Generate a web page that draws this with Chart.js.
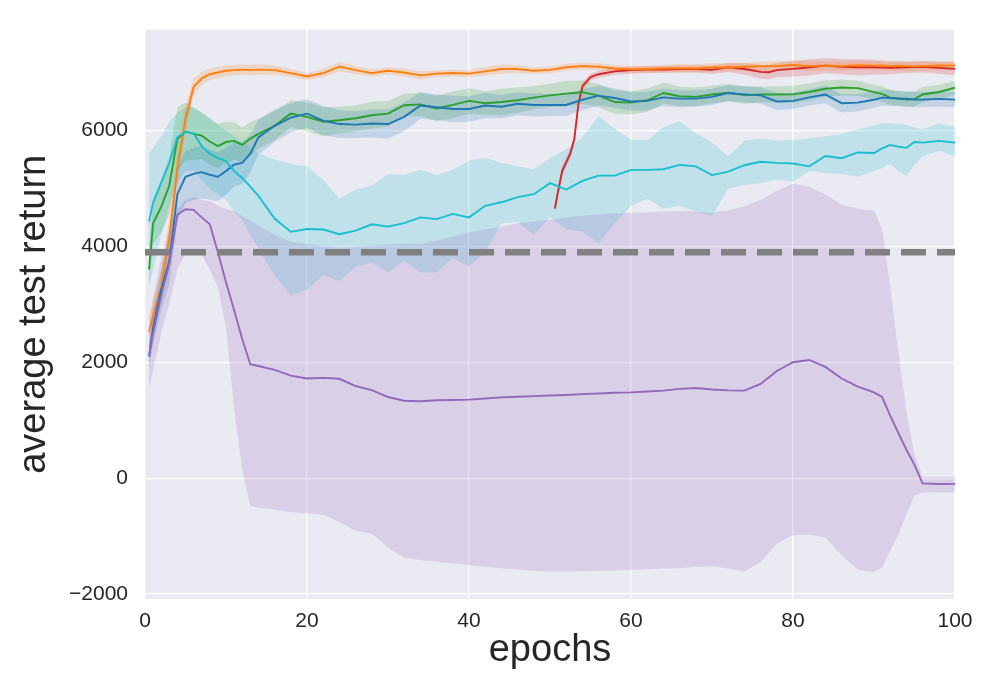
<!DOCTYPE html>
<html>
<head>
<meta charset="utf-8">
<script src="https://cdn.jsdelivr.net/npm/chart.js@4.4.1/dist/chart.umd.min.js"></script>
<style>
  html, body { margin: 0; padding: 0; background: #ffffff; }
  #wrap { width: 1000px; height: 700px; }
</style>
</head>
<body>
<div id="wrap"><canvas id="returnChart" width="1000" height="700"></canvas></div>
<script>
// ---- data ----
const epochs = [0.5, 1, 2, 3, 4, 5, 6, 7, 8, 9, 10, 11, 12, 13, 14,
    16, 18, 20, 22, 24, 26, 28, 30, 32, 34, 36, 38, 40, 42, 44, 46, 48, 50,
    52, 54, 56, 58, 60, 62, 64, 66, 68, 70, 72, 74, 76, 78, 80, 82, 84, 86, 88, 90,
    91, 92, 93, 94, 95, 96, 98, 100];

const orangeMean = [2525, 2800, 3300, 4150, 5350, 6200, 6750, 6900, 6970, 7000, 7030, 7040, 7050, 7040, 7050,
    7040, 6990, 6930, 6990, 7100, 7040, 6990, 7030, 7000, 6950, 6980, 6990, 6980, 7020, 7060, 7060, 7030, 7045,
    7090, 7110, 7100, 7070, 7055, 7060, 7070, 7075, 7070, 7090, 7085, 7100, 7110, 7110, 7130, 7110, 7120, 7110, 7125, 7118,
    7120, 7110, 7115, 7110, 7105, 7110, 7120, 7118];
const orangeSpread = [250, 280, 300, 320, 300, 220, 150, 110, 100, 100, 90, 90, 90, 90, 90,
    80, 70, 60, 70, 80, 70, 60, 60, 70, 70, 60, 60, 60, 70, 80, 70, 60, 60,
    60, 60, 60, 60, 60, 60, 60, 70, 70, 70, 70, 70, 80, 80, 80, 80, 80, 80, 80, 80,
    80, 80, 80, 80, 80, 80, 80, 80];

const greenMean = [3600, 4400, 4680, 5050, 5850, 5980, 5940, 5910, 5810, 5730, 5800, 5820, 5750, 5860, 5940,
    6080, 6290, 6235, 6150, 6177, 6210, 6263, 6290, 6435, 6450, 6380, 6440, 6510, 6470, 6490, 6520, 6566, 6606,
    6635, 6660, 6600, 6490, 6480, 6520, 6646, 6590, 6580, 6620, 6650, 6610, 6620, 6620, 6623, 6663, 6720, 6740, 6730, 6660,
    6630, 6566, 6550, 6535, 6540, 6620, 6663, 6737];
const greenSpread = [300, 350, 450, 500, 550, 500, 450, 400, 400, 380, 350, 320, 300, 280, 260,
    250, 230, 250, 250, 230, 220, 230, 220, 200, 200, 220, 230, 220, 200, 230, 220, 200, 200,
    220, 200, 200, 200, 200, 200, 180, 170, 160, 150, 150, 150, 140, 140, 150, 150, 140, 140, 130, 130,
    130, 130, 130, 130, 130, 130, 120, 120];

const blueMean = [2100, 2600, 3250, 3750, 4900, 5200, 5250, 5280, 5235, 5200, 5300, 5410, 5440, 5600, 5880,
    6080, 6220, 6290, 6170, 6110, 6100, 6120, 6110, 6235, 6430, 6400, 6370, 6370, 6430, 6410, 6460, 6440, 6440,
    6440, 6530, 6600, 6560, 6500, 6510, 6570, 6549, 6549, 6580, 6646, 6623, 6606, 6500, 6510, 6570, 6620, 6470, 6480, 6530,
    6566, 6560, 6550, 6549, 6535, 6532, 6545, 6532];
const blueSpread = [200, 300, 350, 400, 450, 450, 450, 450, 430, 420, 400, 380, 360, 330, 300,
    280, 250, 250, 250, 240, 230, 240, 250, 250, 230, 220, 230, 220, 220, 200, 200, 200, 190,
    190, 180, 170, 170, 160, 160, 150, 150, 140, 140, 140, 140, 140, 150, 140, 140, 150, 160, 150, 140,
    140, 140, 130, 130, 130, 130, 130, 130];

const cyanMean = [4430, 4750, 5100, 5440, 5880, 5975, 5950, 5730, 5600, 5520, 5470, 5300, 5180, 5030, 4870,
    4480, 4250, 4300, 4290, 4210, 4270, 4380, 4340, 4400, 4500, 4470, 4560, 4500, 4700, 4760, 4850, 4900, 5090,
    4980, 5130, 5220, 5220, 5320, 5320, 5330, 5406, 5380, 5230, 5290, 5400, 5460, 5440, 5430, 5380, 5560, 5520, 5620, 5610,
    5690, 5749, 5720, 5700, 5800, 5790, 5820, 5790];
const cyanUpper = [5600, 5700, 5900, 6150, 6300, 6400, 6400, 6300, 6200, 6100, 6000, 5900, 5800, 5700, 5600,
    5500, 5420, 5380, 5150, 4820, 4980, 5050, 5250, 5230, 5320, 5230, 5320, 5480, 5530, 5440, 5380, 5330, 5520,
    5680, 5880, 6250, 6030, 5840, 5830, 6060, 6160, 5950, 5790, 5560, 5820, 5860, 5820, 5830, 5860, 5900, 5940, 6020, 6080,
    6130, 6130, 6110, 6100, 6050, 6020, 6120, 6063];
const cyanLower = [3300, 3600, 4200, 4700, 5100, 5300, 5300, 5150, 5000, 4900, 4800, 4600, 4450, 4200, 3950,
    3500, 3150, 3250, 3500, 3400, 3650, 3720, 3550, 3750, 3550, 3550, 3800, 3650, 3900, 4400, 4420, 4200, 4500,
    4300, 4250, 4050, 4400, 4700, 4820, 4650, 4700, 4600, 4520, 5000, 5060, 5090, 5150, 5120, 5300, 5260, 5250, 5200, 5300,
    5350, 5420, 5300, 5220, 5400, 5550, 5650, 5550];

const purpleMean = [2100, 2500, 3150, 3700, 4550, 4640, 4630, 4500, 4380, 3900, 3380, 2900, 2400, 1966, 1935,
    1870, 1770, 1720, 1730, 1715, 1590, 1520, 1400, 1335, 1327, 1345, 1350, 1356, 1375, 1394, 1405, 1415, 1426,
    1435, 1450, 1460, 1475, 1481, 1495, 1510, 1540, 1555, 1530, 1515, 1510, 1625, 1850, 2000, 2040, 1920, 1720, 1580, 1480,
    1400, 1080, 780, 490, 230, -90, -100, -99];
const purpleUpper = [2700, 3100, 3800, 4300, 4650, 4800, 4850, 4800, 4780, 4700, 4650, 4600, 4520, 4450, 4350,
    4200, 4080, 4040, 4000, 3980, 3990, 4010, 4030, 4040, 4040, 4100, 4170, 4237, 4290, 4340, 4400, 4430, 4460,
    4500, 4530, 4550, 4570, 4580, 4590, 4600, 4608, 4600, 4580, 4620, 4690, 4800, 4960, 5080, 5030, 4900, 4720, 4650, 4620,
    4300, 3320, 2180, 1150, 400, 20, 20, 20];
const purpleLower = [1550, 1870, 2500, 3000, 3600, 3880, 3900, 3850, 3600, 3300, 2600, 1200, 150, -480, -510,
    -540, -590, -610, -630, -757, -910, -960, -1200, -1370, -1410, -1441, -1470, -1500, -1530, -1555, -1580, -1600, -1612,
    -1610, -1605, -1600, -1590, -1584, -1570, -1560, -1555, -1530, -1520, -1560, -1610, -1450, -1127, -984, -970, -1030, -1330, -1580, -1620,
    -1540, -1250, -970, -620, -300, -250, -245, -245];

const redEpochs = [50.6, 51, 51.5, 52, 52.5, 53, 53.5, 54, 55, 56, 58, 60, 62, 64, 66, 68, 70,
    72, 74, 76, 77, 78, 80, 82, 84, 86, 88, 90, 92, 94, 96, 98, 100];
const redMean = [4650, 4950, 5300, 5450, 5600, 5850, 6450, 6760, 6920, 6970, 7020, 7040, 7050, 7050, 7060, 7060, 7045,
    7090, 7060, 7010, 7005, 7040, 7062, 7090, 7118, 7100, 7090, 7090, 7080, 7090, 7100, 7080, 7062];
const redSpread = [60, 70, 80, 80, 80, 80, 80, 70, 60, 60, 60, 60, 60, 60, 60, 60, 70,
    80, 100, 120, 120, 120, 130, 140, 130, 130, 140, 130, 110, 100, 100, 100, 110];

const baselineLevel = 3900;
const xTickValues = [0, 20, 40, 60, 80, 100];
const yTickValues = [-2000, 0, 2000, 4000, 6000];

// ---- helpers ----
function pts(xs, ys) {
    return xs.map((x, i) => ({ x: x, y: ys[i] }));
}

function addBand(list, xs, lower, upper, fillColor) {
    list.push({
        data: pts(xs, lower),
        borderColor: "transparent",
        borderWidth: 0,
        pointRadius: 0,
        fill: false,
        order: 2,
    });
    list.push({
        data: pts(xs, upper),
        borderColor: "transparent",
        borderWidth: 0,
        pointRadius: 0,
        fill: "-1",
        backgroundColor: fillColor,
        order: 2,
    });
}

function addLine(list, xs, ys, color) {
    list.push({
        data: pts(xs, ys),
        borderColor: color,
        borderWidth: 1.9,
        pointRadius: 0,
        fill: false,
        tension: 0,
        order: 1,
    });
}

const plus = (a, b) => a.map((v, i) => v + b[i]);
const minus = (a, b) => a.map((v, i) => v - b[i]);

const datasets = [];

// bands (alpha 0.2 like fill_between)
addBand(datasets, epochs, minus(blueMean, blueSpread), plus(blueMean, blueSpread), "rgba(31, 119, 180, 0.2)");
addBand(datasets, epochs, minus(orangeMean, orangeSpread), plus(orangeMean, orangeSpread), "rgba(255, 127, 14, 0.2)");
addBand(datasets, epochs, minus(greenMean, greenSpread), plus(greenMean, greenSpread), "rgba(44, 160, 44, 0.2)");
addBand(datasets, redEpochs, minus(redMean, redSpread), plus(redMean, redSpread), "rgba(214, 39, 40, 0.2)");
addBand(datasets, epochs, purpleLower, purpleUpper, "rgba(148, 103, 189, 0.2)");
addBand(datasets, epochs, cyanLower, cyanUpper, "rgba(23, 190, 207, 0.2)");

// mean curves
addLine(datasets, epochs, purpleMean, "#9467bd");
addLine(datasets, epochs, cyanMean, "#17becf");
addLine(datasets, epochs, blueMean, "#1f77b4");
addLine(datasets, epochs, greenMean, "#2ca02c");
addLine(datasets, epochs, orangeMean, "#ff7f0e");
addLine(datasets, redEpochs, redMean, "#d62728");

// dashed reference level
datasets.push({
    data: [{ x: 0, y: baselineLevel }, { x: 100, y: baselineLevel }],
    borderColor: "#808080",
    borderWidth: 6.5,
    borderDash: [25, 11],
    borderCapStyle: "butt",
    pointRadius: 0,
    fill: false,
    order: 0,
});

const plotBackground = {
    id: "plotBackground",
    beforeDraw(chart) {
        const { ctx, chartArea } = chart;
        ctx.save();
        ctx.fillStyle = "#EAEAF2";
        ctx.fillRect(chartArea.left, chartArea.top, chartArea.width, chartArea.height);
        ctx.restore();
    },
};

const fontFamily = "'Liberation Sans', Arial, sans-serif";
const textColor = "#262626";

new Chart(document.getElementById("returnChart").getContext("2d"), {
    type: "line",
    data: { datasets: datasets },
    plugins: [plotBackground],
    options: {
        responsive: false,
        devicePixelRatio: 1,
        animation: false,
        events: [],
        layout: { padding: { left: 0, right: 45, top: 26, bottom: 0 } },
        plugins: {
            legend: { display: false },
            tooltip: { enabled: false },
        },
        scales: {
            x: {
                type: "linear",
                min: 0,
                max: 100,
                afterBuildTicks: (scale) => {
                    scale.ticks = xTickValues.map((v) => ({ value: v }));
                },
                afterFit: (scale) => {
                    scale.height = 101;
                },
                grid: { color: "#ffffff", lineWidth: 1.3, drawTicks: false },
                border: { display: false },
                ticks: {
                    padding: 10,
                    color: textColor,
                    font: { family: fontFamily, size: 21 },
                    maxRotation: 0,
                },
                title: {
                    display: true,
                    text: "epochs",
                    color: textColor,
                    font: { family: fontFamily, size: 38 },
                    padding: { top: 0, bottom: 27 },
                },
            },
            y: {
                type: "linear",
                min: -2085,
                max: 7740,
                afterBuildTicks: (scale) => {
                    scale.ticks = yTickValues.map((v) => ({ value: v }));
                },
                afterFit: (scale) => {
                    scale.width = 145;
                },
                grid: { color: "#ffffff", lineWidth: 1.3, drawTicks: false },
                border: { display: false },
                ticks: {
                    padding: 17,
                    color: textColor,
                    font: { family: fontFamily, size: 21 },
                    callback: (value) => String(value).replace("-", "\u2212"),
                },
                title: {
                    display: true,
                    text: "average test return",
                    color: textColor,
                    font: { family: fontFamily, size: 38 },
                    padding: { top: 12, bottom: 0 },
                },
            },
        },
    },
});
</script>
</body>
</html>
